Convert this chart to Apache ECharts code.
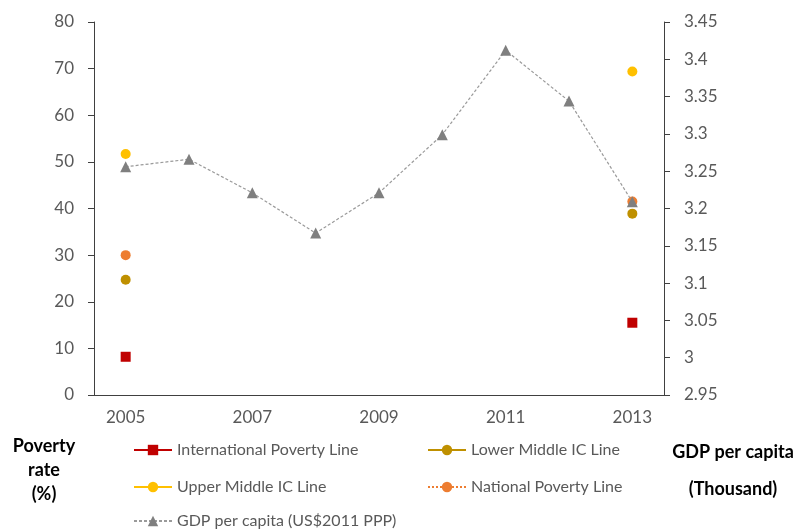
<!DOCTYPE html>
<html><head><meta charset="utf-8">
<script src="https://cdn.jsdelivr.net/npm/echarts@6/dist/echarts.min.js"></script>
<style>html,body{margin:0;padding:0;background:#fff}#c{width:799px;height:531px}</style>
</head><body><div id="c"></div>
<script>
const years = ['2005','2006','2007','2008','2009','2010','2011','2012','2013'];
const intlLine = [8.2, null, null, null, null, null, null, null, 15.5];
const lowerMid = [24.7, null, null, null, null, null, null, null, 38.9];
const upperMid = [51.7, null, null, null, null, null, null, null, 69.4];
const national = [30.0, null, null, null, null, null, null, null, 41.5];
const gdp = [3.256, 3.266, 3.221, 3.167, 3.221, 3.299, 3.412, 3.344, 3.209];
const leftTicks = {min: 0, max: 80, interval: 10};
const rightTicks = {min: 2.95, max: 3.45, interval: 0.05};

const FONT = 'Lato';
const grey = '#595959';
const chart = echarts.init(document.getElementById('c'));
function lg(name, left, top) {
  return {data: [name], left: left, top: top, orient: 'horizontal', itemWidth: 38, itemHeight: 13, itemGap: 6,
    textStyle: {fontFamily: FONT, fontSize: 16, color: grey}, padding: 0, selectedMode: false};
}
chart.setOption({
  animation: false,
  textStyle: {fontFamily: FONT},
  grid: {left: 94, right: 135, top: 22, bottom: 136, containLabel: false},
  legend: [
    lg('International Poverty Line', 133, 442),
    lg('Lower Middle IC Line', 427, 442),
    lg('Upper Middle IC Line', 133, 479),
    lg('National Poverty Line', 427, 479),
    lg('GDP per capita (US$2011 PPP)', 133, 513)
  ],
  xAxis: {type: 'category', data: years, boundaryGap: true,
    axisLine: {lineStyle: {color: '#404040', width: 1}},
    axisTick: {show: false},
    axisLabel: {interval: 1, color: grey, fontSize: 17, fontFamily: FONT, margin: 14}},
  yAxis: [
    {type: 'value', min: leftTicks.min, max: leftTicks.max, interval: leftTicks.interval, position: 'left',
      axisLine: {show: true, lineStyle: {color: '#404040'}},
      axisTick: {show: true, length: 6, lineStyle: {color: '#404040'}},
      splitLine: {show: false},
      axisLabel: {color: grey, fontSize: 17, fontFamily: FONT, margin: 20}},
    {type: 'value', min: rightTicks.min, max: rightTicks.max, interval: rightTicks.interval, position: 'right',
      axisLine: {show: true, lineStyle: {color: '#404040'}},
      axisTick: {show: true, length: 6, lineStyle: {color: '#404040'}},
      splitLine: {show: false},
      axisLabel: {color: grey, fontSize: 17, fontFamily: FONT, margin: 20,
        formatter: v => String(+v.toFixed(2))}}
  ],
  series: [
    {name: 'International Poverty Line', type: 'line', data: intlLine, symbol: 'rect', symbolSize: 10,
      itemStyle: {color: '#C00000'}, lineStyle: {color: '#C00000', width: 2}, connectNulls: false, z: 5},
    {name: 'Lower Middle IC Line', type: 'line', data: lowerMid, symbol: 'circle', symbolSize: 10,
      itemStyle: {color: '#BF9000'}, lineStyle: {color: '#BF9000', width: 2}, z: 5},
    {name: 'Upper Middle IC Line', type: 'line', data: upperMid, symbol: 'circle', symbolSize: 10,
      itemStyle: {color: '#FFC000'}, lineStyle: {color: '#FFC000', width: 2}, z: 5},
    {name: 'National Poverty Line', type: 'line', data: national, symbol: 'circle', symbolSize: 10,
      itemStyle: {color: '#ED7D31'}, lineStyle: {color: '#ED7D31', width: 2, type: 'dotted'}, z: 4},
    {name: 'GDP per capita (US$2011 PPP)', type: 'line', yAxisIndex: 1, data: gdp, symbol: 'triangle', symbolSize: 11,
      itemStyle: {color: '#7F7F7F'}, lineStyle: {color: '#9A9A9A', width: 1.2, type: [3, 2]}, z: 6}
  ],
  graphic: [
    {type: 'text', x: 44, y: 434, silent: true,
      style: {text: 'Poverty\nrate\n(%)', align: 'center', verticalAlign: 'top',
      font: 'bold 18px Lato', fill: '#000', lineHeight: 24}},
    {type: 'text', x: 733, y: 434, silent: true,
      style: {text: 'GDP per capita\n(Thousand)', align: 'center', verticalAlign: 'top',
      font: 'bold 18px Lato', fill: '#000', lineHeight: 37}}
  ]
});
</script></body></html>
